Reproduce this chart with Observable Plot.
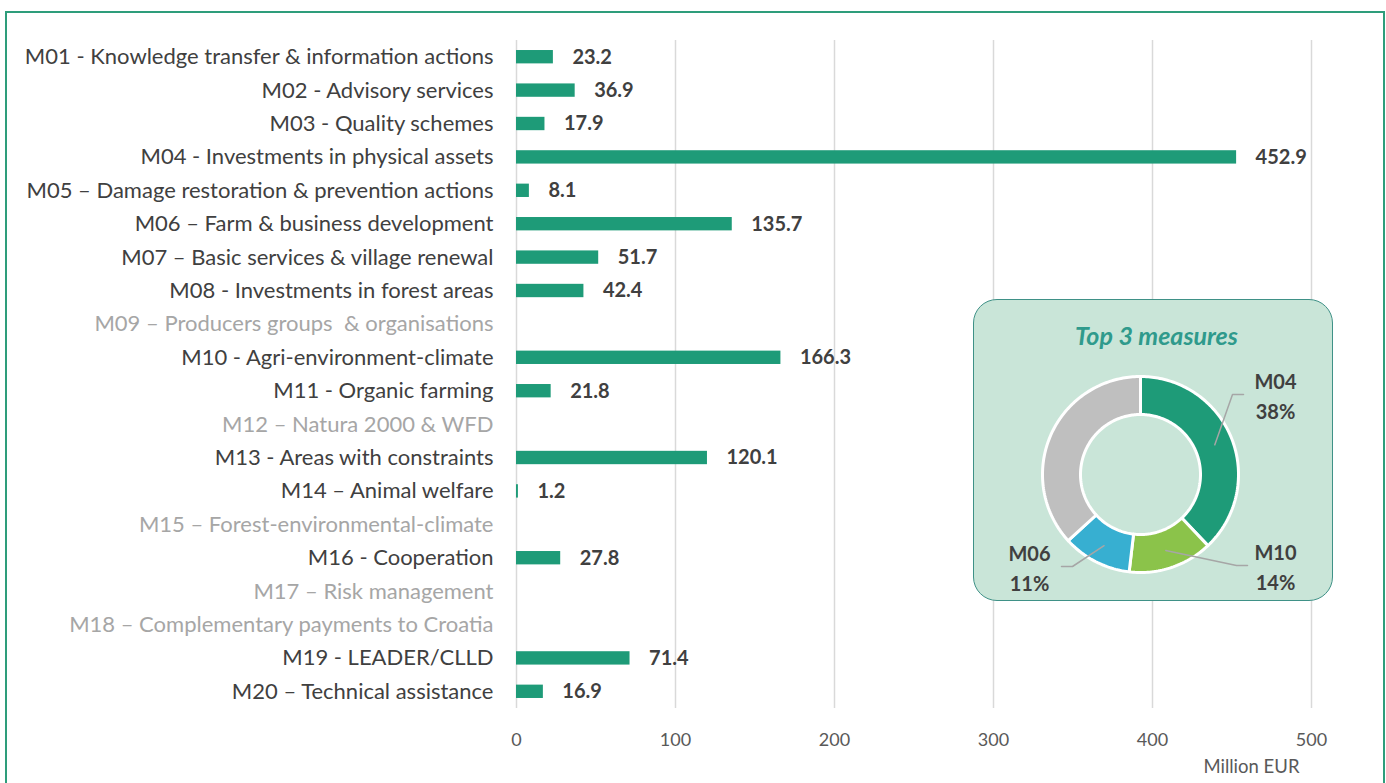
<!DOCTYPE html>
<html>
<head>
<meta charset="utf-8">
<script src="https://cdn.jsdelivr.net/npm/d3@7"></script>
<script src="https://cdn.jsdelivr.net/npm/@observablehq/plot@0.6"></script>
<style>
  html, body { margin: 0; padding: 0; background: #fff; }
  body { width: 1386px; height: 783px; overflow: hidden; position: relative; font-family: Lato, "Open Sans", sans-serif; }
  #frame { position: absolute; left: 5px; top: 11px; width: 1380px; height: 820px; border: 2px solid #2e9d7b; box-sizing: border-box; }
  #main { position: absolute; left: 0; top: 0; }
  #inset { position: absolute; left: 973px; top: 299px; width: 360px; height: 302px; background: #c9e5d8; border: 1.5px solid #3f9187; border-radius: 24px; box-sizing: border-box; }
  #donut { position: absolute; left: 973px; top: 299px; }
</style>
</head>
<body>
<div id="frame"></div>
<div id="main"></div>
<div id="inset"></div>
<div id="donut"></div>
<script>
// ---- data ----
const measures = [
  "M01 - Knowledge transfer & information actions",
  "M02 - Advisory services",
  "M03 - Quality schemes",
  "M04 - Investments in physical assets",
  "M05 – Damage restoration & prevention actions",
  "M06 – Farm & business development",
  "M07 – Basic services & village renewal",
  "M08 - Investments in forest areas",
  "M09 – Producers groups  & organisations",
  "M10 - Agri-environment-climate",
  "M11 - Organic farming",
  "M12 – Natura 2000 & WFD",
  "M13 - Areas with constraints",
  "M14 – Animal welfare",
  "M15 – Forest-environmental-climate",
  "M16 - Cooperation",
  "M17 – Risk management",
  "M18 – Complementary payments to Croatia",
  "M19 - LEADER/CLLD",
  "M20 – Technical assistance"
];
const values = [23.2, 36.9, 17.9, 452.9, 8.1, 135.7, 51.7, 42.4, null, 166.3, 21.8, null, 120.1, 1.2, null, 27.8, null, null, 71.4, 16.9];
const xTicks = [0, 100, 200, 300, 400, 500];
const axisUnit = "Million EUR";

const insetTitle = "Top 3 measures";
const topCodes = ["M04", "M10", "M06"];
const donutColors = ["#1e9b78", "#8bc34a", "#37afd1", "#bfbfbf"];
// label annotation placement (donut data units, 1 = 100px)
const labelX = [1.35, 1.35, -1.11];
const labelY = [0.80, -0.91, -0.92];
const elbowX = [0.92, 0.96, -0.68];
const leaderDir = [1, 1, -1];

// ---- main bar chart ----
const rows = measures.map((m, i) => ({name: m, code: m.slice(0, 3), value: values[i]}));
const withVal = rows.filter(d => d.value != null);
const noVal = rows.filter(d => d.value == null);

const main = Plot.plot({
  width: 1386,
  height: 783,
  marginLeft: 516,
  marginRight: 75,
  marginTop: 40,
  marginBottom: 75,
  style: {background: "transparent", fontFamily: "Lato, 'Open Sans', sans-serif", overflow: "visible"},
  x: {domain: [0, 500], axis: null},
  y: {domain: measures, axis: null, paddingInner: 0.6, paddingOuter: 0.3, round: false},
  marks: [
    Plot.gridX(xTicks, {stroke: "#d9d9d9", strokeOpacity: 1, strokeWidth: 1.5}),
    Plot.barX(withVal, {x: "value", y: "name", fill: "#1e9b78"}),
    Plot.text(withVal, {frameAnchor: "left", y: "name", text: "name", textAnchor: "end", dx: -23, fontSize: 22, fill: "#404040"}),
    Plot.text(noVal, {frameAnchor: "left", y: "name", text: "name", textAnchor: "end", dx: -23, fontSize: 22, fill: "#a6a6a6"}),
    Plot.text(withVal, {x: "value", y: "name", text: d => d.value.toFixed(1), textAnchor: "start", dx: 19, fontSize: 20, fontWeight: "bold", fill: "#404040"}),
    Plot.axisX({ticks: xTicks, tickSize: 0, tickPadding: 25, label: null, fontSize: 18, color: "#595959"}),
    Plot.text([axisUnit], {frameAnchor: "bottom-right", textAnchor: "end", dx: -12, dy: 64, fontSize: 18.5, fill: "#595959"})
  ]
});
document.getElementById("main").append(main);

// ---- donut ----
const total = d3.sum(values);
const slices = topCodes.map((c, i) => ({code: c, share: rows.find(r => r.code === c).value / total, color: donutColors[i]}));
slices.push({code: "Other", share: 1 - d3.sum(slices, s => s.share), color: donutColors[3]});

const R0 = 0.6, R1 = 0.98, RL = 0.8;
let acc = 0;
slices.forEach(s => {
  s.a0 = acc * 2 * Math.PI;
  acc += s.share;
  s.a1 = acc * 2 * Math.PI;
  s.mid = (s.a0 + s.a1) / 2;
  const n = Math.max(2, Math.ceil((s.a1 - s.a0) / 0.02));
  const pts = [];
  for (let k = 0; k <= n; k++) { const a = s.a0 + (s.a1 - s.a0) * k / n; pts.push({x: R1 * Math.sin(a), y: R1 * Math.cos(a)}); }
  for (let k = n; k >= 0; k--) { const a = s.a0 + (s.a1 - s.a0) * k / n; pts.push({x: R0 * Math.sin(a), y: R0 * Math.cos(a)}); }
  pts.push(pts[0]);
  s.pts = pts;
});

const labels = slices.slice(0, 3).map((s, i) => ({
  code: s.code,
  pct: Math.round(s.share * 100) + "%",
  x: labelX[i], y: labelY[i],
  leader: [
    {x: RL * Math.sin(s.mid), y: RL * Math.cos(s.mid)},
    {x: elbowX[i], y: labelY[i]},
    {x: elbowX[i] + leaderDir[i] * 0.11, y: labelY[i]}
  ]
}));

const W = 360, H = 302, CX = 167, CY = 175, S = 100;
const donut = Plot.plot({
  width: W,
  height: H,
  margin: 0,
  style: {background: "transparent", fontFamily: "Lato, 'Open Sans', sans-serif", overflow: "visible"},
  x: {domain: [-CX / S, (W - CX) / S], axis: null},
  y: {domain: [-(H - CY) / S, CY / S], axis: null},
  marks: [
    ...slices.map(s => Plot.line(s.pts, {x: "x", y: "y", fill: s.color, stroke: "white", strokeWidth: 3, strokeLinejoin: "miter"})),
    ...labels.map(l => Plot.line(l.leader, {x: "x", y: "y", stroke: "#a6a6a6", strokeWidth: 1.5})),
    Plot.text(labels, {x: "x", y: "y", text: d => d.code + "\n" + d.pct, lineHeight: 1.5, fontSize: 20, fontWeight: "bold", fill: "#404040"}),
    Plot.text([insetTitle], {frameAnchor: "top", dy: 28, dx: 3, fontSize: 25, fontWeight: "bold", fontStyle: "italic", fill: "#2f9a8c"})
  ]
});
document.getElementById("donut").append(donut);
</script>
</body>
</html>
